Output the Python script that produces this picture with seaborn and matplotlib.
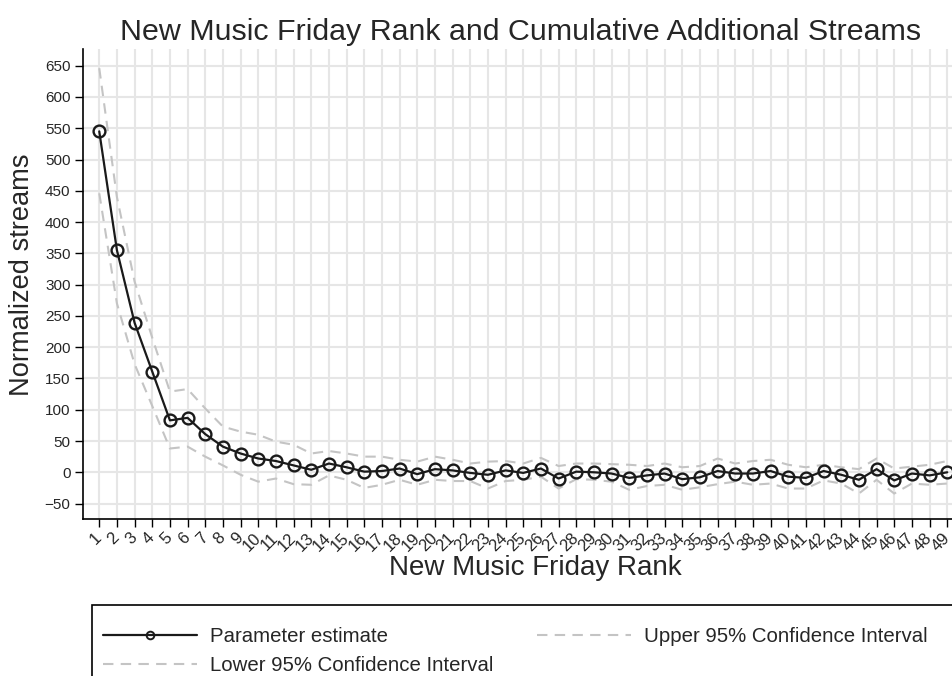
import numpy as np
import pandas as pd
import matplotlib
matplotlib.use("Agg")
import matplotlib.pyplot as plt
from matplotlib.lines import Line2D
from matplotlib.patches import Rectangle
import seaborn as sns

# New Music Friday playlist rank (1 = top slot)
ranks = list(range(1, 50))

# Point estimates of cumulative additional (normalized) streams
estimate = [545, 355, 239, 161, 83, 87, 61, 41, 30, 22,
            18, 11, 4, 14, 8, 1, 2, 6, -3, 5,
            3, -1, -4, 3, -1, 6, -10, 1, 0, -2,
            -9, -5, -2, -11, -8, 2, -2, -2, 2, -7,
            -9, 2, -4, -12, 5, -13, -2, -5, 0]

# 95% confidence bounds
upper_ci = [646, 440, 305, 215, 129, 133, 102, 73, 65, 60,
            49, 44, 30, 34, 30, 25, 25, 20, 17, 25,
            20, 14, 17, 18, 14, 23, 10, 14, 14, 13,
            12, 10, 14, 8, 10, 22, 14, 18, 20, 12,
            8, 12, 8, 5, 22, 6, 9, 12, 18]
lower_ci = [446, 270, 173, 106, 38, 41, 25, 11, -4, -15,
            -10, -19, -20, -5, -12, -25, -20, -12, -20, -12,
            -14, -14, -26, -14, -12, -7, -26, -11, -12, -15,
            -28, -22, -20, -28, -24, -19, -15, -20, -18, -26,
            -26, -13, -18, -34, -12, -34, -18, -20, -18]

y_ticks = list(range(-50, 651, 50))

df = pd.DataFrame({"rank": ranks, "estimate": estimate,
                   "upper": upper_ci, "lower": lower_ci})

sns.set_theme(style="white")
plt.rcParams["font.family"] = ["Liberation Sans", "DejaVu Sans"]
plt.rcParams["axes.unicode_minus"] = True

W, H = 952, 676
fig = plt.figure(figsize=(W / 100, H / 100), dpi=100)
ax = fig.add_axes([83 / W, 1 - 519 / H, (W - 83) / W, (519 - 49) / H])

ci_color = "#c4c4c4"
dash = (5, 3.5)
sns.lineplot(data=df, x="rank", y="lower", ax=ax, color=ci_color, lw=1.5,
             zorder=2).lines[-1].set_dashes(dash)
sns.lineplot(data=df, x="rank", y="upper", ax=ax, color=ci_color, lw=1.5,
             zorder=2).lines[-1].set_dashes(dash)
sns.lineplot(data=df, x="rank", y="estimate", ax=ax, color="#1a1a1a", lw=1.6,
             marker="o", markersize=8.5, markerfacecolor="none",
             markeredgecolor="#1a1a1a", markeredgewidth=1.7, zorder=3)

ax.set_xlim(0.08, 49.27)
ax.set_ylim(-74.7, 676.7)
ax.set_xticks(ranks)
ax.set_xticklabels([str(r) for r in ranks], rotation=45, ha="right",
                   va="center", rotation_mode="anchor", fontsize=12)
ax.set_yticks(y_ticks)
ax.set_yticklabels([str(v).replace("-", "\u2212") for v in y_ticks], fontsize=11)
ax.tick_params(axis="both", which="major", direction="out", length=6,
               width=1, color="black", left=True, bottom=True, pad=3)
ax.tick_params(axis="x", pad=6)

ax.grid(True, color="#e6e6e6", lw=1.5, zorder=0)
ax.set_axisbelow(True)
for side in ["top", "right"]:
    ax.spines[side].set_visible(False)
for side in ["left", "bottom"]:
    ax.spines[side].set_color("black")
    ax.spines[side].set_linewidth(1.2)

ax.set_xlabel("New Music Friday Rank", fontsize=20)
ax.xaxis.set_label_coords((535 - 83) / (W - 83), -(568 - 519) / (519 - 49))
ax.set_ylabel("Normalized streams", fontsize=19.6)
ax.yaxis.set_label_coords(-(83 - 22) / (W - 83), (519 - 275) / (519 - 49))
ax.xaxis.label.set_va("center")
ax.yaxis.label.set_va("center")

fig.text(521 / W, 1 - 32 / H, "New Music Friday Rank and Cumulative Additional Streams",
         ha="center", va="center", fontsize=21.9)

# Legend: estimate and lower bound in the first column, upper bound in the second
h_est = Line2D([], [], color="#1a1a1a", lw=1.6, marker="o", markersize=5.5,
               markerfacecolor="none", markeredgewidth=1.4)
h_low = Line2D([], [], color=ci_color, lw=1.5, dashes=dash)
h_up = Line2D([], [], color=ci_color, lw=1.5, dashes=dash)
fig.legend([h_est, h_low, h_up],
           ["Parameter estimate", "Lower 95% Confidence Interval",
            "Upper 95% Confidence Interval"],
           ncol=2, loc="upper left", bbox_to_anchor=(103 / W, 1 - 627 / H),
           frameon=False, fontsize=14.7, handlelength=4.6, handletextpad=0.64,
           columnspacing=2.15, labelspacing=0.48, borderpad=0, borderaxespad=0)
fig.patches.append(Rectangle((92 / W, -0.2), 2, 0.2 + (676 - 605) / H,
                             transform=fig.transFigure, fill=False,
                             edgecolor="black", lw=1.2))

fig.savefig("out.png", dpi=100)
